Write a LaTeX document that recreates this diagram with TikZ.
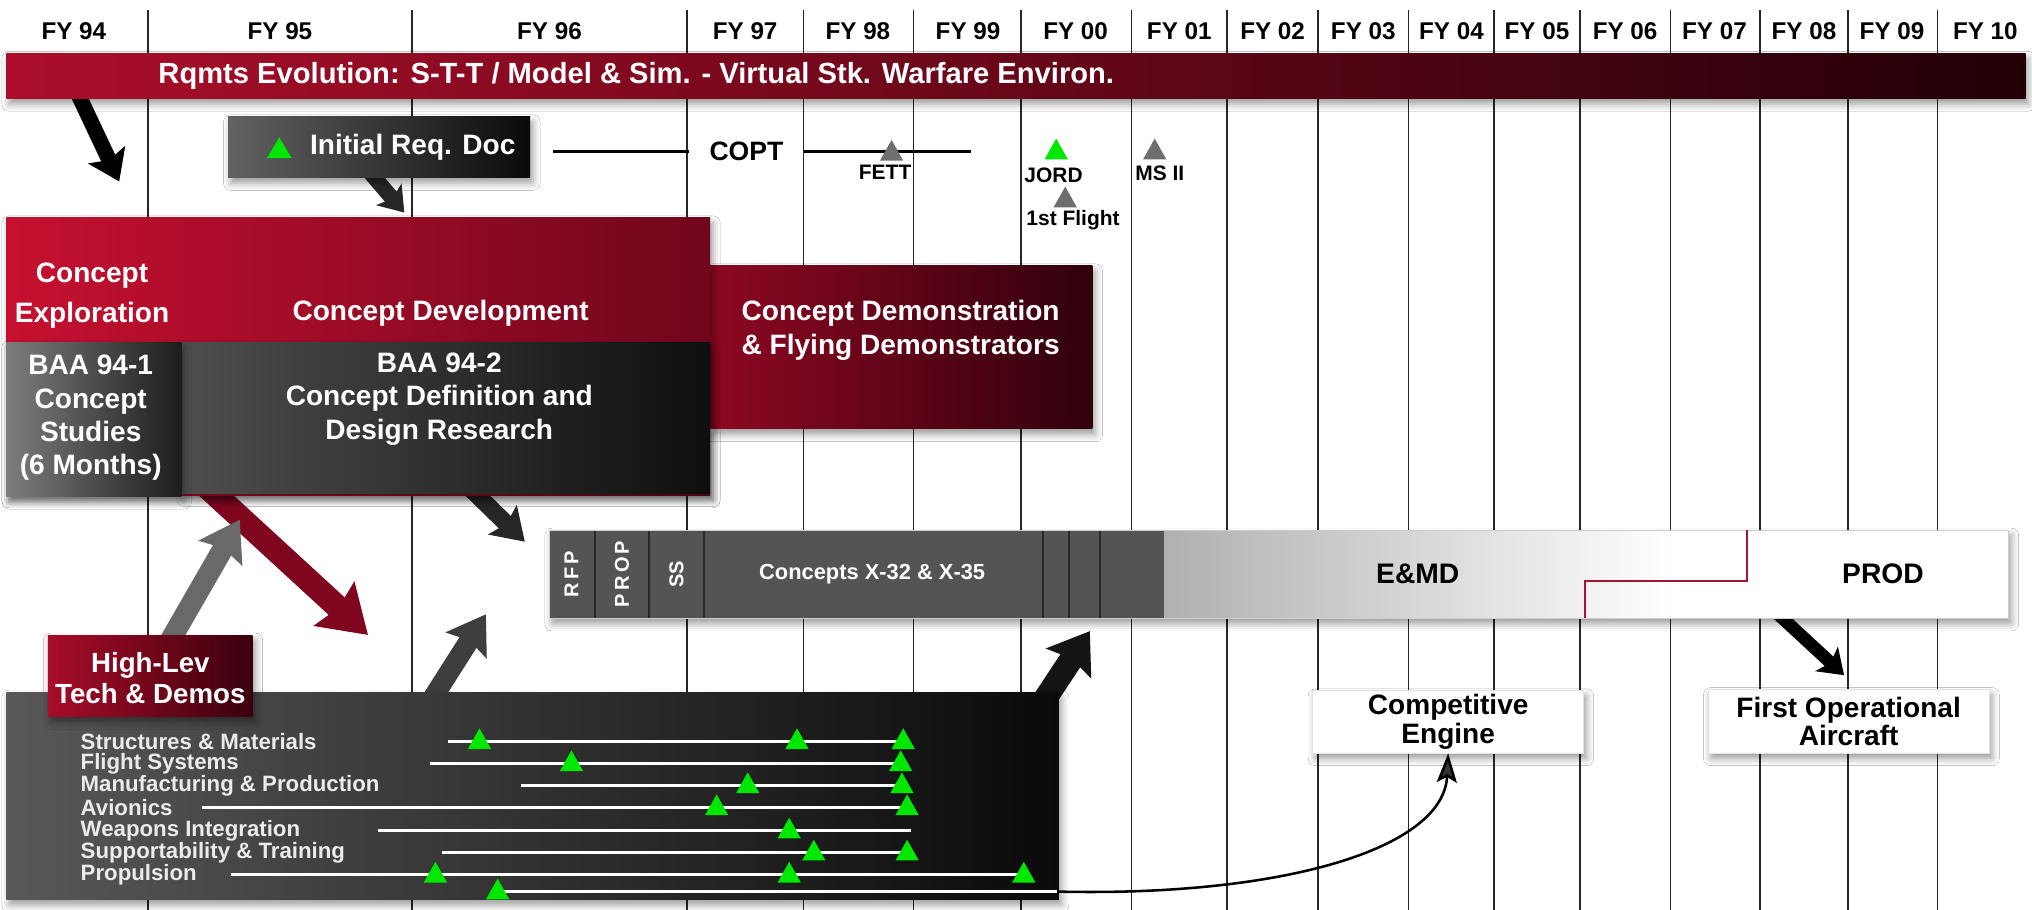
\documentclass[tikz,border=0pt]{standalone}
\usepackage{fontspec}
\setmainfont{Liberation Sans}
\usetikzlibrary{arrows.meta,shadows.blur}

\definecolor{bannerL}{RGB}{172,14,42}
\definecolor{bannerR}{RGB}{35,0,8}
\definecolor{crimsonL}{RGB}{198,16,48}
\definecolor{crimsonR}{RGB}{112,6,28}
\definecolor{demoL}{RGB}{142,8,35}
\definecolor{demoR}{RGB}{48,0,12}
\definecolor{hilevL}{RGB}{168,12,40}
\definecolor{hilevR}{RGB}{58,0,14}
\definecolor{baaoneL}{RGB}{125,125,125}
\definecolor{baaoneR}{RGB}{28,28,28}
\definecolor{baatwoL}{RGB}{78,78,78}
\definecolor{baatwoR}{RGB}{14,14,14}
\definecolor{reqL}{RGB}{98,98,98}
\definecolor{reqR}{RGB}{10,10,10}
\definecolor{techL}{RGB}{88,88,88}
\definecolor{techR}{RGB}{10,10,10}
\definecolor{segfill}{RGB}{84,84,84}
\definecolor{segdark}{RGB}{40,40,40}
\definecolor{redarrow}{RGB}{128,6,32}
\definecolor{greyarrow}{RGB}{105,105,105}
\definecolor{darkarrow}{RGB}{38,38,38}
\definecolor{midarrow}{RGB}{62,62,62}
\definecolor{mgreen}{RGB}{0,232,0}
\definecolor{mgrey}{RGB}{110,110,110}
\definecolor{stepred}{RGB}{165,20,50}

\tikzset{
  gridline/.style={line width=0.9pt, black!85},
  fy/.style={font=\fontsize{13.3}{16}\selectfont\bfseries},
  shdw/.style={blur shadow={shadow xshift=1.5pt, shadow yshift=-3pt, shadow blur radius=4pt}},
  wtxt/.style={text=white, align=center, inner sep=0pt, font=\fontsize{15.4}{18.3}\selectfont\bfseries},
  lbl/.style={inner sep=0pt, font=\fontsize{11.5}{13}\selectfont\bfseries},
  itemtxt/.style={anchor=west, inner sep=0pt, text=white!92!black, font=\fontsize{12.2}{14}\selectfont\bfseries},
  tline/.style={white, line width=1.8pt},
  segline/.style={segdark, line width=1.2pt},
  wbox/.style={fill=white, draw=black!12, shdw, align=center, inner sep=0pt, font=\fontsize{15.4}{15.5}\selectfont\bfseries},
  fatarr/.style n args={3}{line width=#1, -{Stealth[width=#2, length=#3, inset=3pt]}},
}

\begin{document}
\begin{tikzpicture}[>=Latex, x=0.25mm, y=-0.25mm]
\useasboundingbox (0,0) rectangle (1568,702);
\fill[white] (0,0) rectangle (1568,702);

% fiscal years
\foreach \x in {114,318,530,620,705,788,873,947,1017,1087,1153,1219,1289,1358,1426,1495}
  \draw[gridline] (\x,8) -- (\x,702);
\foreach \x/\yr in {57/94,216/95,424/96,575/97,662/98,747/99,830/00,910/01,982/02,1052/03,1120/04,1186/05,1254/06,1323/07,1392/08,1460/09,1532/10}
  \node[fy] (fy\yr) at (\x,24) {FY \yr};

% arrow end points
\coordinate (a1s) at (59,70);   \coordinate (a1e) at (92,140);
\coordinate (a2s) at (283,130); \coordinate (a2e) at (312,164);
\coordinate (a3s) at (160,376); \coordinate (a3e) at (284,490);
\coordinate (a4s) at (128,500); \coordinate (a4e) at (185,401);
\coordinate (a5s) at (362,376); \coordinate (a5e) at (405,418);
\coordinate (a6s) at (333,540); \coordinate (a6e) at (375,474);
\coordinate (a7s) at (806,540); \coordinate (a7e) at (841,487);
\coordinate (a8s) at (1370,472); \coordinate (a8e) at (1423,521);

\draw[fatarr={8.5pt}{22pt}{16pt}, black] (a1s) -- (a1e);
\draw[fatarr={8.5pt}{18pt}{13pt}, darkarrow] (a2s) -- (a2e);
\draw[fatarr={13pt}{32pt}{25pt}, redarrow] (a3s) -- (a3e);
\draw[fatarr={11.5pt}{27pt}{21pt}, greyarrow] (a4s) -- (a4e);
\draw[fatarr={9.5pt}{22pt}{17pt}, darkarrow] (a5s) -- (a5e);
\draw[fatarr={11pt}{26pt}{20pt}, midarrow] (a6s) -- (a6e);
\draw[fatarr={13pt}{29pt}{21pt}, black!92] (a7s) -- (a7e);
\draw[fatarr={7pt}{18pt}{13pt}, black] (a8s) -- (a8e);

% requirements banner
\shade[shdw, left color=bannerL, right color=bannerR] (5,41) rectangle (1563,76);
\node[wtxt, anchor=west, font=\fontsize{16}{17}\selectfont\bfseries] (rqmts) at (122,58.5)
  {Rqmts Evolution: S-T-T / Model \& Sim. - Virtual Stk. Warfare Environ.};

% initial requirements and milestones
\shade[shdw, left color=reqL, right color=reqR] (176,90) rectangle (409,137);
\fill[mgreen] (206,122) -- (225,122) -- (215.5,106) -- cycle;
\node[wtxt, anchor=west] (reqdoc) at (239,114) {Initial Req. Doc};

\coordinate (coptw) at (427,117);
\coordinate (copte) at (749,117);
\node[inner xsep=11pt, inner ysep=0pt, font=\fontsize{14.6}{16}\selectfont\bfseries] (copt) at (576,117) {COPT};
\draw[line width=1.4pt] (coptw) -- (copt);
\draw[line width=1.4pt] (copt) -- (copte);
\foreach \x/\y/\c in {688/124/mgrey, 815/123/mgreen, 822/160/mgrey, 891/123/mgrey}
  \fill[\c] (\x-9,\y) -- (\x+9,\y) -- (\x,\y-16) -- cycle;
\node[lbl] (fett) at (683,133) {FETT};
\node[lbl] (jord) at (813,135) {JORD};
\node[lbl] (flight) at (828,170) {1st Flight};
\node[lbl] (ms2) at (895,134) {MS II};

% concept phases
\shade[shdw, left color=demoL, right color=demoR] (548,205) rectangle (843,331);
\shade[shdw, left color=crimsonL, right color=crimsonR] (5,168) rectangle (548,382);
\shade[shdw, left color=baatwoL, right color=baatwoR] (140,264) rectangle (548,381);
\shade[shdw, left color=baaoneL, right color=baaoneR] (5,264) rectangle (140,383);
\node[wtxt, font=\fontsize{15.4}{21.7}\selectfont\bfseries] (cexpl) at (71,228) {Concept\\Exploration};
\node[wtxt] (cdev) at (340,241.5) {Concept Development};
\node[wtxt] (cdemo) at (695,255) {Concept Demonstration\\\& Flying Demonstrators};
\node[wtxt] (baa1) at (70,322.5) {BAA 94-1\\Concept\\Studies\\(6 Months)};
\node[wtxt] (baa2) at (339,308) {BAA 94-2\\Concept Definition and\\Design Research};

% program phases bar
\fill[white, shdw] (424,409) rectangle (1550,477);
\shade[left color=gray!62, right color=white] (898,409) rectangle (1292,477);
\fill[segfill] (424,409) rectangle (898,477);
\foreach \x in {459,501,543,805,825,849}
  \draw[segline] (\x,409) -- (\x,477);
\draw[black!20] (424,409) rectangle (1550,477);
\draw[stepred, line width=1.1pt] (1223,477) -- (1223,448) -- (1348,448) -- (1348,409);
\node[wtxt, rotate=90, font=\fontsize{11}{12}\selectfont\bfseries] (rfp) at (441,443) {R\,F\,P};
\node[wtxt, rotate=90, font=\fontsize{11}{12}\selectfont\bfseries] (prop) at (480,443) {P\,R\,O\,P};
\node[wtxt, rotate=90, font=\fontsize{11}{12}\selectfont\bfseries] (ss) at (522,443) {SS};
\node[wtxt, font=\fontsize{12}{14}\selectfont\bfseries] (xconc) at (673,443) {Concepts X-32 \& X-35};
\node[lbl, font=\fontsize{15.5}{17}\selectfont\bfseries] (emd) at (1094,443) {E\&MD};
\node[lbl, font=\fontsize{15.5}{17}\selectfont\bfseries] (prod) at (1453,443) {PROD};

% technology base
\shade[shdw, left color=techL, right color=techR] (5,534) rectangle (817,694);
\shade[shdw, left color=hilevL, right color=hilevR] (37,490) rectangle (195,553);
\node[wtxt, font=\fontsize{15.2}{17}\selectfont\bfseries] (hilev) at (116,523) {High-Lev\\Tech \& Demos};
\foreach \y/\name [count=\i] in {572/Structures \& Materials, 589/Flight Systems, 606/Manufacturing \& Production, 623/Avionics, 641/Weapons Integration, 658/Supportability \& Training, 675/Propulsion}
  \node[itemtxt] (item\i) at (62,\y) {\name};
\coordinate (propend) at (816,688);
\foreach \a/\b/\y in {346/697/572, 332/695/589, 402/697/606, 156/700/623, 292/703/641, 341/699/658, 178/790/675}
  \draw[tline] (\a,\y) -- (\b,\y);
\draw[tline] (384,688) -- (propend);
\foreach \x/\y in {370/572,615/572,697/572, 441/589,695/589, 577/606,696/606, 553/623,700/623, 609/641, 628/658,700/658, 336/675,609/675,790/675, 384/688}
  \fill[mgreen] (\x-9,\y+6) -- (\x+9,\y+6) -- (\x,\y-10) -- cycle;

% outcomes
\node[wbox, minimum width=52.25mm, minimum height=12mm] (cengine) at (1117.5,557) {Competitive\\Engine};
\node[wbox, minimum width=54.25mm, minimum height=12.25mm] (fopac) at (1426.5,556.5) {First Operational\\Aircraft};
\draw[line width=1.4pt, -{Stealth[length=16pt, width=11pt, inset=3pt]}] (propend) .. controls (990,692) and (1114,655) .. (cengine.south);
\end{tikzpicture}
\end{document}
